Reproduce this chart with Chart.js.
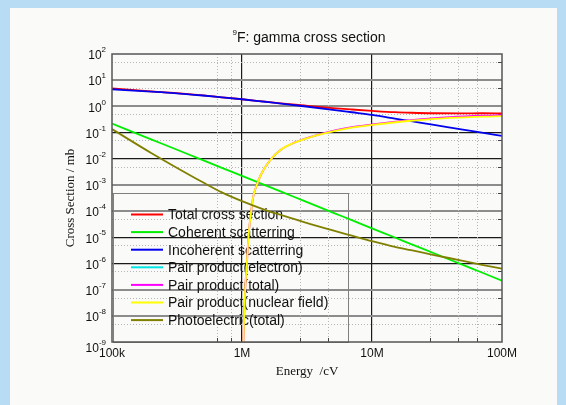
<!DOCTYPE html>
<html>
<head>
<meta charset="utf-8">
<script src="https://cdn.jsdelivr.net/npm/chart.js@4"></script>
<style>
  html, body { margin: 0; padding: 0; background: #b9dcf5; }
  #wrap { width: 566px; height: 405px; }
</style>
</head>
<body>
<div id="wrap"><canvas id="xsChart" width="566" height="405"></canvas></div>
<script>
// photon energies (eV) for the smooth processes
const energy = [1e5, 2e5, 3e5, 5e5, 7e5, 1e6, 1.5e6, 2e6, 3e6, 5e6, 7e6, 1e7, 1.5e7, 2e7, 3e7, 5e7, 7e7, 1e8];
const totalXs = [4.86, 3.74, 3.25, 2.61, 2.22, 1.87, 1.51, 1.31, 1.08, 0.86, 0.76, 0.675, 0.60, 0.57, 0.545, 0.54, 0.545, 0.54];
const coherentXs = [0.22, 0.055, 0.0245, 0.0088, 0.0045, 0.0022, 9.8e-4, 5.5e-4, 2.45e-4, 8.8e-5, 4.5e-5, 2.2e-5, 9.8e-6, 5.5e-6, 2.45e-6, 8.8e-7, 4.5e-7, 2.2e-7];
const incoherentXs = [4.50, 3.67, 3.22, 2.60, 2.22, 1.87, 1.50, 1.28, 1.01, 0.74, 0.595, 0.471, 0.342, 0.271, 0.196, 0.129, 0.099, 0.074];
const photoXs = [0.135, 0.0166, 5.2e-3, 1.26e-3, 5.2e-4, 2.4e-4, 1.12e-4, 7.1e-5, 3.8e-5, 1.82e-5, 1.15e-5, 7.1e-6, 4.3e-6, 3.2e-6, 2.1e-6, 1.26e-6, 8.9e-7, 6.3e-7];

// pair production starts at the 1.022 MeV threshold
const pairEnergy = [1.025e6, 1.04e6, 1.06e6, 1.09e6, 1.12e6, 1.16e6, 1.22e6, 1.3e6, 1.4e6, 1.65e6, 2e6, 2.5e6, 3.5e6, 5e6, 7e6, 1e7, 2e7, 4e7, 1e8];
const pairNuclear = [1.0e-9, 1.26e-8, 1.26e-7, 1.0e-6, 1.0e-5, 5.6e-5, 3.5e-4, 1.0e-3, 2.5e-3, 8.9e-3, 0.0224, 0.0398, 0.0708, 0.112, 0.155, 0.195, 0.282, 0.363, 0.427];
const pairTotal = [1.0e-9, 1.26e-8, 1.26e-7, 1.0e-6, 1.0e-5, 5.6e-5, 3.5e-4, 1.0e-3, 2.5e-3, 8.9e-3, 0.0224, 0.0402, 0.0718, 0.115, 0.160, 0.203, 0.298, 0.39, 0.46];
const pairElectron = [];

const xTicks = [1e5, 1e6, 1e7, 1e8];
const xTickLabels = ['100k', '1M', '10M', '100M'];
const yExponents = [-9, -8, -7, -6, -5, -4, -3, -2, -1, 0, 1, 2];

const xMinor = [6.4e5, 8.2e5, 2.8e6, 4.6e6, 2.8e7, 4.6e7, 6.4e7];
const yMinor = yExponents.slice(0, -1).map(e => 5 * Math.pow(10, e));

const toPoints = (xs, ys) => ys.map((y, i) => ({ x: xs[i], y }));

const series = [
  { label: 'Total cross section', color: '#ff0000', xs: energy, ys: totalXs, order: 6 },
  { label: 'Coherent scatterring', color: '#00ee00', xs: energy, ys: coherentXs, order: 5 },
  { label: 'Incoherent scatterring', color: '#0000ee', xs: energy, ys: incoherentXs, order: 4 },
  { label: 'Pair product(electron)', color: '#00e5e5', xs: pairEnergy, ys: pairElectron, order: 3 },
  { label: 'Pair product(total)', color: '#ff00ff', xs: pairEnergy, ys: pairTotal, order: 2 },
  { label: 'Pair product(nuclear field)', color: '#ffff00', xs: pairEnergy, ys: pairNuclear, order: 1 },
  { label: 'Photoelectric(total)', color: '#808000', xs: energy, ys: photoXs, order: 0 }
];

const SANS = 'Arial, "Liberation Sans", sans-serif';
const SERIF = '"Times New Roman", "Liberation Serif", serif';

// panel background, title, axis labels, minor grid and the legend box
const decor = {
  id: 'decor',
  beforeDraw(chart) {
    const c = chart.ctx;
    c.save();
    c.fillStyle = '#b9dcf5';
    c.fillRect(0, 0, chart.width, chart.height);
    c.fillStyle = '#fafaf8';
    c.fillRect(10, 8, 547, 397);
    c.restore();
  },
  beforeDatasetsDraw(chart) {
    const c = chart.ctx;
    const a = chart.chartArea;
    const xs = chart.scales.x, ys = chart.scales.y;
    c.save();

    // dotted minor grid
    c.strokeStyle = '#b5b5b5';
    c.lineWidth = 1;
    c.setLineDash([1, 2]);
    xMinor.forEach(v => {
      const px = Math.round(xs.getPixelForValue(v)) + 0.5;
      c.beginPath(); c.moveTo(px, a.top); c.lineTo(px, a.bottom); c.stroke();
    });
    yMinor.forEach(v => {
      const py = Math.round(ys.getPixelForValue(v)) + 0.5;
      c.beginPath(); c.moveTo(a.left, py); c.lineTo(a.right, py); c.stroke();
    });
    c.setLineDash([]);

    // small inward tick marks
    c.strokeStyle = '#444';
    xMinor.forEach(v => {
      const px = Math.round(xs.getPixelForValue(v)) + 0.5;
      c.beginPath(); c.moveTo(px, a.bottom); c.lineTo(px, a.bottom - 4); c.stroke();
    });
    yMinor.forEach(v => {
      const py = Math.round(ys.getPixelForValue(v)) + 0.5;
      c.beginPath(); c.moveTo(a.right, py); c.lineTo(a.right - 4, py); c.stroke();
    });

    // legend box
    c.strokeStyle = '#808080';
    c.lineWidth = 1;
    c.strokeRect(113.5, 193.5, 235, 149);
    c.font = '14px ' + SANS;
    c.textBaseline = 'middle';
    c.textAlign = 'left';
    chart.data.datasets.forEach((ds, i) => {
      const y = 214.5 + i * 17.6;
      c.strokeStyle = ds.borderColor;
      c.lineWidth = 2;
      c.beginPath(); c.moveTo(131, y); c.lineTo(163, y); c.stroke();
      c.fillStyle = '#111';
      c.fillText(ds.label, 168, y + 1);
    });

    // y tick labels 10^n
    c.fillStyle = '#111';
    yExponents.forEach((e, i) => {
      let py = ys.getPixelForValue(Math.pow(10, e)) + 2;
      if (i === 0) py += 5;
      const exp = String(e);
      c.font = '8px ' + SANS;
      const ew = c.measureText(exp).width;
      c.textAlign = 'right';
      c.textBaseline = 'middle';
      c.fillText(exp, 106, py - 6);
      c.font = '12px ' + SANS;
      c.fillText('10', 106 - ew, py);
    });

    // title with superscript mass number
    const main = 'F: gamma cross section';
    c.font = '14px ' + SANS;
    const mw = c.measureText(main).width;
    c.font = '8px ' + SANS;
    const sw = c.measureText('9').width;
    const x0 = (a.left + a.right) / 2 - (mw + sw) / 2 + 2;
    c.textAlign = 'left';
    c.textBaseline = 'alphabetic';
    c.fillText('9', x0, 35);
    c.font = '14px ' + SANS;
    c.fillText(main, x0 + sw, 42);

    // axis titles
    c.font = '13px ' + SERIF;
    c.textAlign = 'center';
    c.textBaseline = 'middle';
    c.fillText('Energy  /cV', 307, 372);
    c.translate(71, 198);
    c.rotate(-Math.PI / 2);
    c.fillText('Cross Section / mb', 0, 0);
    c.restore();
  },
  afterDatasetsDraw(chart) {
    const c = chart.ctx;
    const a = chart.chartArea;
    c.save();
    c.strokeStyle = '#555';
    c.lineWidth = 1.5;
    c.strokeRect(a.left, a.top, a.right - a.left, a.bottom - a.top);
    c.restore();
  }
};

const gridTone = e => (((1 - e) >> 1) % 2 === 0 ? 'gray' : 'dark');

new Chart(document.getElementById('xsChart'), {
  type: 'line',
  data: {
    datasets: series.map(s => ({
      label: s.label,
      data: toPoints(s.xs, s.ys),
      borderColor: s.color,
      backgroundColor: s.color,
      borderWidth: 1.8,
      pointRadius: 0,
      cubicInterpolationMode: 'monotone',
      order: s.order
    }))
  },
  options: {
    responsive: false,
    animation: false,
    layout: { padding: { left: 0, right: 64, top: 54, bottom: 0 } },
    plugins: { legend: { display: false }, tooltip: { enabled: false } },
    scales: {
      x: {
        type: 'logarithmic',
        min: 1e5,
        max: 1e8,
        afterBuildTicks: s => { s.ticks = xTicks.map(v => ({ value: v })); },
        afterFit: s => { s.height = 63; },
        ticks: {
          callback: (v, i) => xTickLabels[i],
          color: '#111',
          font: { size: 12, family: SANS },
          padding: 4,
          maxRotation: 0,
          autoSkip: false
        },
        grid: {
          drawTicks: false,
          color: ctx => (ctx.tick && (ctx.tick.value === 1e6 || ctx.tick.value === 1e7)) ? '#1a1a1a' : 'rgba(0,0,0,0)',
          lineWidth: 1.2
        },
        border: { display: false }
      },
      y: {
        type: 'logarithmic',
        min: 1e-9,
        max: 1e2,
        afterBuildTicks: s => { s.ticks = yExponents.map(e => ({ value: Math.pow(10, e) })); },
        afterFit: s => { s.width = 112; },
        ticks: { display: false },
        grid: {
          drawTicks: false,
          color: ctx => {
            if (!ctx.tick) return 'rgba(0,0,0,0)';
            const e = Math.round(Math.log10(ctx.tick.value));
            if (e === 2 || e === -9) return 'rgba(0,0,0,0)';
            return gridTone(e) === 'gray' ? '#8c8c8c' : '#1a1a1a';
          },
          lineWidth: ctx => {
            if (!ctx.tick) return 1;
            const e = Math.round(Math.log10(ctx.tick.value));
            return gridTone(e) === 'gray' ? 2 : 1.2;
          }
        },
        border: { display: false }
      }
    }
  },
  plugins: [decor]
});
</script>
</body>
</html>
